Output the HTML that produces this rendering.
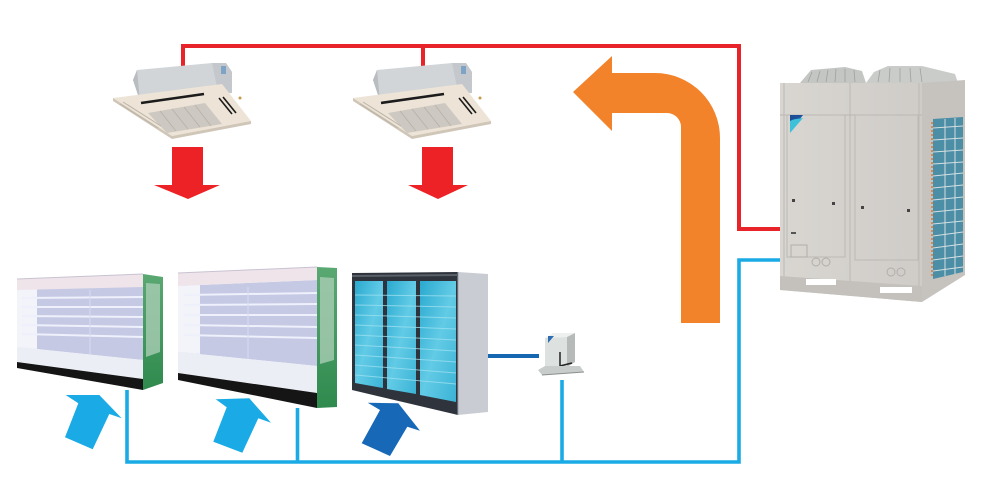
<!DOCTYPE html>
<html>
<head>
<meta charset="utf-8">
<style>
  html,body{margin:0;padding:0;background:#fff;}
  body{width:1000px;height:497px;overflow:hidden;font-family:"Liberation Sans",sans-serif;}
  svg{display:block;}
</style>
</head>
<body>
<svg width="1000" height="497" viewBox="0 0 1000 497" xmlns="http://www.w3.org/2000/svg">
  <defs>
    <linearGradient id="glass" x1="0" y1="0" x2="1" y2="1">
      <stop offset="0" stop-color="#2aa9cf"/>
      <stop offset="0.5" stop-color="#62cbe6"/>
      <stop offset="1" stop-color="#3bb3d6"/>
    </linearGradient>
    <linearGradient id="odu" x1="0" y1="0" x2="1" y2="0">
      <stop offset="0" stop-color="#d9d6d2"/>
      <stop offset="1" stop-color="#cfccc8"/>
    </linearGradient>
    <linearGradient id="green" x1="0" y1="0" x2="0" y2="1">
      <stop offset="0" stop-color="#5aa872"/>
      <stop offset="1" stop-color="#2f8a4e"/>
    </linearGradient>
  </defs>

  <!-- ===== Red refrigerant lines ===== -->
  <g fill="none" stroke="#e8232a" stroke-width="4">
    <polyline points="183,75 183,46 739,46 739,229 781,229"/>
    <line x1="423" y1="46" x2="423" y2="72"/>
  </g>

  <!-- ===== Blue lines ===== -->
  <g fill="none" stroke="#1aabe6" stroke-width="3.6">
    <polyline points="781,260 739,260 739,462 127,462 127,390"/>
    <line x1="297.5" y1="408" x2="297.5" y2="462"/>
    <line x1="562" y1="380" x2="562" y2="462"/>
  </g>
  <line x1="488" y1="356" x2="539" y2="356" stroke="#1467b0" stroke-width="4"/>

  <!-- ===== Orange arrow ===== -->
  <path d="M681,323 L720,323 L720,138 A65,65 0 0 0 655,73 L612,73 L612,56 L573,92 L612,131 L612,113 L667,113 A14,14 0 0 1 681,127 Z" fill="#f2832b"/>

  <!-- ===== Cassettes ===== -->
  <g id="cas1">
    <polygon points="133,80 137,70 212,63 226,63 232,72 232,93 140,101" fill="#d2d5d8"/>
    <polygon points="133,80 137,70 140,101" fill="#b9bcc0"/>
    <polygon points="212,63 226,63 232,72 232,93 218,92" fill="#c4c7cb"/>
    <rect x="221" y="66" width="5" height="8" fill="#7ea3c4"/>
    <polygon points="113,98 222,84 251,121 172,136" fill="#ede4d7"/>
    <polygon points="113,98 172,136 251,121 251,124 172,139 113,101" fill="#cfc6b8"/>
    <polygon points="148,113 205,103 222,124 167,133" fill="#cdc8c1"/>
    <g stroke="#b7b1a9" stroke-width="0.8">
      <line x1="160" y1="111" x2="176" y2="131"/>
      <line x1="172" y1="109" x2="188" y2="129"/>
      <line x1="184" y1="107" x2="200" y2="127"/>
      <line x1="195" y1="105" x2="211" y2="126"/>
    </g>
    <line x1="141" y1="103" x2="204" y2="94" stroke="#1c1c1c" stroke-width="2.6"/>
    <line x1="219" y1="98" x2="232" y2="114" stroke="#1c1c1c" stroke-width="1.6"/>
    <line x1="223" y1="97" x2="236" y2="113" stroke="#1c1c1c" stroke-width="1.6"/>
    <line x1="120" y1="104" x2="158" y2="128" stroke="#bdb4a6" stroke-width="1"/>
    <line x1="123" y1="102" x2="161" y2="126" stroke="#bdb4a6" stroke-width="1"/>
    <circle cx="240" cy="98" r="1.5" fill="#c99a4a"/>
  </g>
  <g transform="translate(240,0)">
    <polygon points="133,80 137,70 212,63 226,63 232,72 232,93 140,101" fill="#d2d5d8"/>
    <polygon points="133,80 137,70 140,101" fill="#b9bcc0"/>
    <polygon points="212,63 226,63 232,72 232,93 218,92" fill="#c4c7cb"/>
    <rect x="221" y="66" width="5" height="8" fill="#7ea3c4"/>
    <polygon points="113,98 222,84 251,121 172,136" fill="#ede4d7"/>
    <polygon points="113,98 172,136 251,121 251,124 172,139 113,101" fill="#cfc6b8"/>
    <polygon points="148,113 205,103 222,124 167,133" fill="#cdc8c1"/>
    <g stroke="#b7b1a9" stroke-width="0.8">
      <line x1="160" y1="111" x2="176" y2="131"/>
      <line x1="172" y1="109" x2="188" y2="129"/>
      <line x1="184" y1="107" x2="200" y2="127"/>
      <line x1="195" y1="105" x2="211" y2="126"/>
    </g>
    <line x1="141" y1="103" x2="204" y2="94" stroke="#1c1c1c" stroke-width="2.6"/>
    <line x1="219" y1="98" x2="232" y2="114" stroke="#1c1c1c" stroke-width="1.6"/>
    <line x1="223" y1="97" x2="236" y2="113" stroke="#1c1c1c" stroke-width="1.6"/>
    <line x1="120" y1="104" x2="158" y2="128" stroke="#bdb4a6" stroke-width="1"/>
    <line x1="123" y1="102" x2="161" y2="126" stroke="#bdb4a6" stroke-width="1"/>
    <circle cx="240" cy="98" r="1.5" fill="#c99a4a"/>
  </g>

  <!-- ===== Red down arrows ===== -->
  <polygon points="172,147 203,147 203,185 220,185 188,199 154,185 172,185" fill="#ec2227"/>
  <polygon points="422,147 453,147 453,185 468,185 438,199 408,185 422,185" fill="#ec2227"/>

  <!-- ===== Outdoor unit ===== -->
  <g>
    <polygon points="800,83 811,70 845,67 862,71 866,83" fill="#c3c6c3"/>
    <polygon points="866,83 874,72 888,66 922,66 955,74 958,83" fill="#c9ccc9"/>
    <g stroke="#9ea29f" stroke-width="0.8">
      <line x1="812" y1="72" x2="808" y2="82"/><line x1="820" y1="71" x2="817" y2="82"/>
      <line x1="828" y1="70" x2="826" y2="82"/><line x1="836" y1="69" x2="835" y2="82"/>
      <line x1="845" y1="69" x2="845" y2="82"/><line x1="854" y1="70" x2="855" y2="82"/>
      <line x1="880" y1="70" x2="878" y2="82"/><line x1="890" y1="68" x2="889" y2="82"/>
      <line x1="900" y1="68" x2="900" y2="82"/><line x1="910" y1="68" x2="911" y2="82"/>
      <line x1="920" y1="68" x2="922" y2="82"/>
    </g>
    <polygon points="780,83 922,83 922,302 780,290" fill="url(#odu)"/>
    <polygon points="922,83 965,80 965,275 922,302" fill="#c6c3bf"/>
    <line x1="780" y1="115" x2="922" y2="115" stroke="#b9b6b2" stroke-width="1"/>
    <g fill="none" stroke="#bcb9b5" stroke-width="1">
      <rect x="787" y="115" width="58" height="142"/>
      <rect x="855" y="115" width="63" height="145"/>
      <line x1="850" y1="83" x2="850" y2="296"/>
      <line x1="784" y1="83" x2="784" y2="290"/>
      <line x1="919" y1="83" x2="919" y2="300"/>
    </g>
    <polygon points="780,276 922,286 922,302 780,290" fill="#c4c1bc"/>
    <rect x="806" y="279" width="30" height="6" fill="#fff"/>
    <rect x="880" y="287" width="32" height="6" fill="#fff"/>
    <rect x="791" y="245" width="16" height="12" fill="none" stroke="#b1aeaa" stroke-width="1"/>
    <circle cx="816" cy="262" r="4" fill="none" stroke="#b1aeaa"/>
    <circle cx="826" cy="262" r="4" fill="none" stroke="#b1aeaa"/>
    <circle cx="891" cy="272" r="4" fill="none" stroke="#b1aeaa"/>
    <circle cx="901" cy="272" r="4" fill="none" stroke="#b1aeaa"/>
    <polygon points="790,115 803,115 790,132" fill="#1e5aa8"/>
    <polygon points="790,120 803,118 790,133" fill="#3ec0d8"/>
    <polygon points="790,115 803,115 790,121" fill="#1e4f96"/>
    <rect x="792" y="199" width="3" height="3" fill="#444"/>
    <rect x="832" y="202" width="3" height="3" fill="#444"/>
    <rect x="861" y="206" width="3" height="3" fill="#444"/>
    <rect x="907" y="209" width="3" height="3" fill="#444"/>
    <rect x="791" y="232" width="5" height="2" fill="#555"/>
    <!-- coil -->
    <polygon points="933,119 963,117 963,272 933,279" fill="#4b8ea6"/>
    <g stroke="#d5dfe2" stroke-width="1">
      <line x1="933" y1="128" x2="963" y2="126"/><line x1="933" y1="140" x2="963" y2="138"/>
      <line x1="933" y1="152" x2="963" y2="150"/><line x1="933" y1="164" x2="963" y2="162"/>
      <line x1="933" y1="176" x2="963" y2="173"/><line x1="933" y1="188" x2="963" y2="185"/>
      <line x1="933" y1="200" x2="963" y2="197"/><line x1="933" y1="212" x2="963" y2="209"/>
      <line x1="933" y1="224" x2="963" y2="221"/><line x1="933" y1="236" x2="963" y2="232"/>
      <line x1="933" y1="248" x2="963" y2="244"/><line x1="933" y1="260" x2="963" y2="256"/>
      <line x1="933" y1="271" x2="963" y2="267"/>
      <line x1="945" y1="119" x2="945" y2="276"/><line x1="955" y1="118" x2="955" y2="274"/>
    </g>
    <line x1="932" y1="122" x2="932" y2="276" stroke="#d57a3a" stroke-width="1.5" stroke-dasharray="2,2"/>
  </g>

  <!-- ===== Display case 1 ===== -->
  <g>
    <polygon points="17,289 143,285 143,360 17,347" fill="#c5c9e4"/>
    <polygon points="17,289 37,288 37,349 17,347" fill="#f3f3fa"/>
    <g stroke="#eef0fb" stroke-width="2">
      <line x1="22" y1="298" x2="143" y2="297"/>
      <line x1="22" y1="307" x2="143" y2="307"/>
      <line x1="22" y1="316" x2="143" y2="317"/>
      <line x1="22" y1="325" x2="143" y2="327"/>
      <line x1="22" y1="334" x2="143" y2="337"/>
    </g>
    <line x1="90" y1="290" x2="90" y2="355" stroke="#d8daf0" stroke-width="1"/>
    <polygon points="17,279 143,274 143,287 17,290" fill="#efe4ea"/>
    <line x1="17" y1="279" x2="143" y2="274" stroke="#c8c2d2" stroke-width="1"/>
    <polygon points="17,347 143,360 143,379 17,362" fill="#eceef6"/>
    <polygon points="17,362 143,379 143,390 17,368" fill="#151515"/>
    <polygon points="143,274 163,277 163,383 143,390" fill="url(#green)"/>
    <polygon points="146,283 160,284 160,352 146,357" fill="#a9cdb4" opacity="0.8"/>
  </g>

  <!-- ===== Display case 2 ===== -->
  <g>
    <polygon points="178,286 317,280 317,366 178,352" fill="#c5c9e4"/>
    <polygon points="178,286 200,285 200,354 178,352" fill="#f3f3fa"/>
    <g stroke="#eef0fb" stroke-width="2">
      <line x1="184" y1="295" x2="317" y2="293"/>
      <line x1="184" y1="305" x2="317" y2="304"/>
      <line x1="184" y1="315" x2="317" y2="315"/>
      <line x1="184" y1="325" x2="317" y2="327"/>
      <line x1="184" y1="335" x2="317" y2="338"/>
    </g>
    <line x1="248" y1="287" x2="248" y2="360" stroke="#d8daf0" stroke-width="1"/>
    <polygon points="178,273 317,267 317,280 178,286" fill="#efe4ea"/>
    <line x1="178" y1="273" x2="317" y2="267" stroke="#c8c2d2" stroke-width="1"/>
    <polygon points="178,352 317,366 317,393 178,373" fill="#eceef6"/>
    <polygon points="178,373 317,393 317,408 178,380" fill="#151515"/>
    <polygon points="317,267 337,268 337,407 317,408" fill="url(#green)"/>
    <polygon points="320,277 334,278 334,360 320,364" fill="#a9cdb4" opacity="0.8"/>
  </g>

  <!-- ===== Freezer ===== -->
  <g>
    <polygon points="352,273 458,272 458,415 352,390" fill="#2f343c"/>
    <polygon points="458,272 488,274 488,412 458,415" fill="#c9cdd3"/>
    <line x1="458" y1="272" x2="458" y2="415" stroke="#9aa0a8" stroke-width="1"/>
    <polygon points="355,281 383,281 383,388 355,383" fill="url(#glass)"/>
    <polygon points="387,281 416,281 416,394 387,389" fill="url(#glass)"/>
    <polygon points="420,281 456,281 456,402 420,395" fill="url(#glass)"/>
    <g stroke="#9be0f0" stroke-width="1" opacity="0.8">
      <line x1="355" y1="295" x2="456" y2="296"/>
      <line x1="355" y1="305" x2="456" y2="307"/>
      <line x1="355" y1="315" x2="456" y2="318"/>
      <line x1="355" y1="325" x2="456" y2="329"/>
      <line x1="355" y1="335" x2="456" y2="340"/>
      <line x1="355" y1="345" x2="456" y2="351"/>
      <line x1="355" y1="355" x2="456" y2="362"/>
      <line x1="355" y1="365" x2="456" y2="373"/>
      <line x1="355" y1="375" x2="456" y2="384"/>
    </g>
    <line x1="352" y1="276" x2="458" y2="275" stroke="#5a6068" stroke-width="2"/>
  </g>

  <!-- ===== Small unit ===== -->
  <g>
    <polygon points="545,338 553,333 575,333 567,337" fill="#eef0ef"/>
    <polygon points="545,338 567,337 567,367 545,368" fill="#dde1e0"/>
    <polygon points="567,337 575,333 575,362 567,367" fill="#b6bbba"/>
    <polygon points="548,336 554,336 548,343" fill="#2f6db0"/>
    <line x1="560" y1="352" x2="560" y2="366" stroke="#222" stroke-width="1.5"/>
    <line x1="560" y1="366" x2="572" y2="363" stroke="#222" stroke-width="1.5"/>
    <polygon points="538,370 545,366 580,366 584,372 542,375" fill="#c8cccb"/>
    <line x1="542" y1="375" x2="584" y2="372" stroke="#8a8f8e" stroke-width="1"/>
  </g>

  <!-- ===== Blue up arrows ===== -->
  <polygon points="65.7,395 99.3,395 121.7,418.3 109.3,414 92.7,449.3 65,437.3 78.3,403.3" fill="#1aabe6"/>
  <polygon points="215.7,399.3 249.3,398.3 271,422.7 258.3,418.3 242.3,452.7 213.3,441.7 226.7,407.3" fill="#1aabe6"/>
  <polygon points="367.7,402.7 398.3,403.3 420,430.7 407.3,426.7 390,456 361.7,443.3 380,410" fill="#1769b8"/>
</svg>
</body>
</html>
